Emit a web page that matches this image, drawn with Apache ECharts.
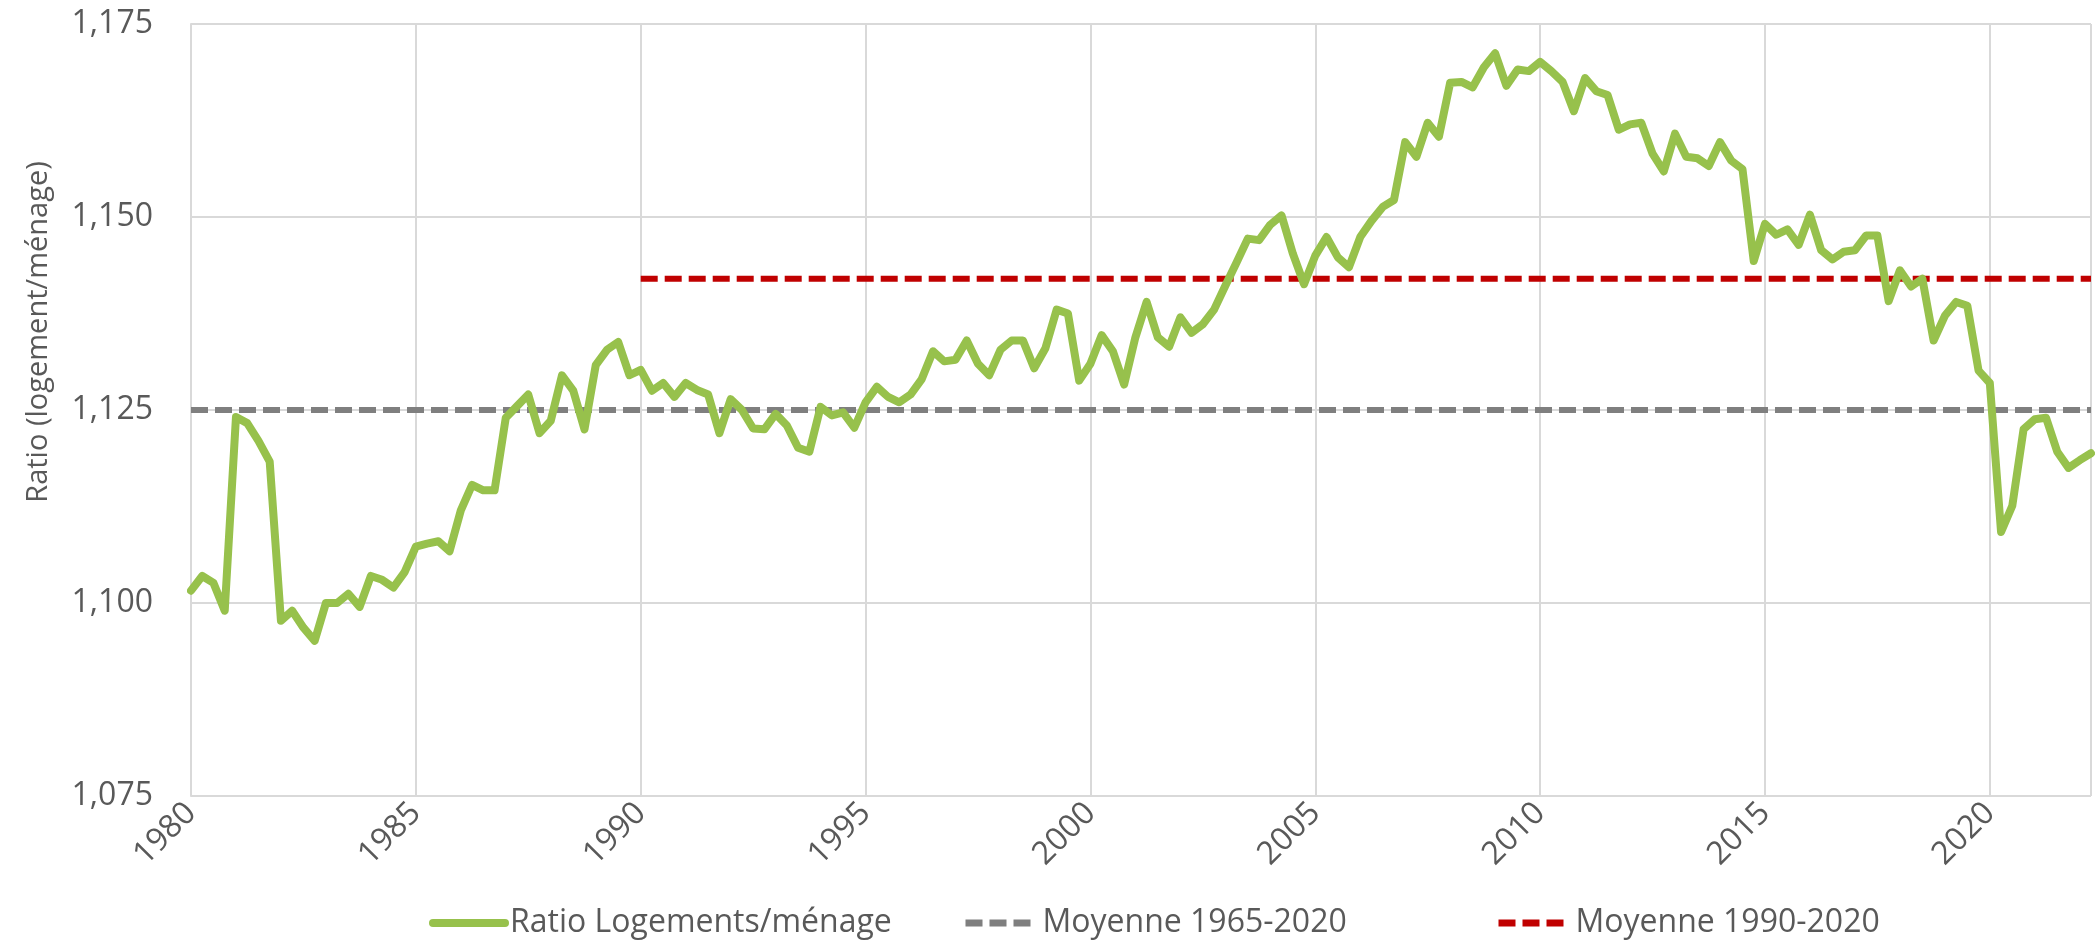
<!DOCTYPE html>
<html>
<head>
<meta charset="utf-8">
<script src="https://cdn.jsdelivr.net/npm/echarts@6/dist/echarts.min.js"></script>
<style>
html,body{margin:0;padding:0;background:#fff;}
#chart{width:2095px;height:946px;}
</style>
</head>
<body>
<div id="chart"></div>
<script>
// Quarterly ratio values, 1980 Q1 .. 2022 Q2
const startYear = 1980;
const ratio = [
  1.1016, 1.1035, 1.1026, 1.0990,
  1.1241, 1.1233, 1.1210, 1.1183,
  1.0977, 1.0990, 1.0968, 1.0951,
  1.1000, 1.1000, 1.1012, 1.0995,
  1.1035, 1.1030, 1.1020, 1.1040,
  1.1073, 1.1077, 1.1080, 1.1067,
  1.1120, 1.1153, 1.1146, 1.1146,
  1.1240, 1.1255, 1.1270, 1.1220,
  1.1236, 1.1295, 1.1275, 1.1225,
  1.1308, 1.1328, 1.1338, 1.1295,
  1.1302, 1.1275, 1.1285, 1.1267,
  1.1285, 1.1276, 1.1270, 1.1220,
  1.1264, 1.1250, 1.1226, 1.1225,
  1.1245, 1.1230, 1.1201, 1.1196,
  1.1254, 1.1243, 1.1247, 1.1227,
  1.1260, 1.1280, 1.1267, 1.1260,
  1.1270, 1.1290, 1.1326, 1.1313,
  1.1315, 1.1340, 1.1310, 1.1295,
  1.1328, 1.1340, 1.1340, 1.1304,
  1.1330, 1.1380, 1.1375, 1.1288,
  1.1310, 1.1347, 1.1326, 1.1283,
  1.1344, 1.1390, 1.1344, 1.1332,
  1.1370, 1.1350, 1.1361, 1.1380,
  1.1411, 1.1441, 1.1472, 1.1470,
  1.1490, 1.1502, 1.1453, 1.1413,
  1.1450, 1.1474, 1.1448, 1.1435,
  1.1474, 1.1495, 1.1513, 1.1522,
  1.1597, 1.1578, 1.1622, 1.1604,
  1.1674, 1.1675, 1.1668, 1.1694,
  1.1712, 1.1670, 1.1691, 1.1689,
  1.1701, 1.1689, 1.1675, 1.1637,
  1.1680, 1.1663, 1.1658, 1.1613,
  1.1620, 1.1622, 1.1582, 1.1559,
  1.1608, 1.1578, 1.1576, 1.1566,
  1.1597, 1.1573, 1.1562, 1.1443,
  1.1491, 1.1477, 1.1484, 1.1464,
  1.1503, 1.1457, 1.1445, 1.1455,
  1.1457, 1.1476, 1.1476, 1.1391,
  1.1431, 1.1410, 1.1420, 1.1340,
  1.1372, 1.1390, 1.1385, 1.1301,
  1.1285, 1.1092, 1.1126, 1.1225,
  1.1238, 1.1240, 1.1196, 1.1175,
  1.1185, 1.1194
];
const avg1965 = 1.125;        // Moyenne 1965-2020
const avg1965Span = [1980, 2022.25];
const avg1990 = 1.142;        // Moyenne 1990-2020
const avg1990Span = [1990, 2022.25];
const yTicks = [1.075, 1.100, 1.125, 1.150, 1.175];
const xTicks = [1980, 1985, 1990, 1995, 2000, 2005, 2010, 2015, 2020];
const seriesNames = ['Ratio Logements/ménage', 'Moyenne 1965-2020', 'Moyenne 1990-2020'];

const ratioData = ratio.map((v, i) => [startYear + i / 4, v]);
const xMax = startYear + (ratio.length - 1) / 4;

const FONT = '"Open Sans", "Noto Sans", sans-serif';
const TXT = '#595959';
const FS = 32;
const GREEN = '#97c14c', GREY = '#7f7f7f', RED = '#c00000';
const legendLines = [
  {width: 8, color: GREEN, type: 'solid', cap: 'round'},
  {width: 7, color: GREY, type: [17, 7]},
  {width: 7, color: RED, type: [17, 7]}
];
const legendLeft = [424, 957, 1490];

const legends = seriesNames.map((n, i) => ({
  bottom: 2,
  left: legendLeft[i],
  itemWidth: 72,
  itemHeight: 20,
  textStyle: {fontSize: 32, color: TXT, fontFamily: FONT},
  itemStyle: {color: 'transparent', borderColor: 'transparent', borderWidth: 0},
  data: [{name: n, lineStyle: legendLines[i]}]
}));

const chart = echarts.init(document.getElementById('chart'), null, {renderer: 'canvas'});
chart.setOption({
  animation: false,
  backgroundColor: '#ffffff',
  textStyle: {fontFamily: FONT},
  grid: {left: 191, right: 4, top: 24, bottom: 150, containLabel: false},
  legend: legends,
  xAxis: {
    type: 'value',
    min: startYear,
    max: xMax,
    interval: 5,
    axisLine: {show: false},
    axisTick: {show: false},
    splitLine: {show: true, lineStyle: {color: '#d9d9d9', width: 2}},
    axisLabel: {
      rotate: 45,
      fontSize: FS,
      color: TXT,
      margin: 12,
      showMaxLabel: false,
      formatter: v => xTicks.includes(v) ? String(v) : ''
    }
  },
  yAxis: {
    type: 'value',
    min: yTicks[0],
    max: yTicks[yTicks.length - 1],
    interval: 0.025,
    name: 'Ratio (logement/ménage)',
    nameLocation: 'middle',
    nameGap: 138,
    nameRotate: 90,
    nameTextStyle: {fontSize: 29, color: TXT, fontFamily: FONT, padding: [0, 0, 0, 156]},
    axisLine: {show: true, lineStyle: {color: '#d9d9d9', width: 2}},
    axisTick: {show: false},
    splitLine: {show: true, lineStyle: {color: '#d9d9d9', width: 2}},
    axisLabel: {
      fontSize: FS,
      color: TXT,
      margin: 38,
      formatter: v => v.toFixed(3).replace('.', ',')
    }
  },
  series: [
    {
      name: seriesNames[0],
      type: 'line',
      data: ratioData,
      showSymbol: false,
      symbol: 'none',
      lineStyle: {color: GREEN, width: 8, cap: 'round', join: 'round'},
      itemStyle: {color: GREEN},
      z: 3
    },
    {
      name: seriesNames[1],
      type: 'line',
      data: avg1965Span.map(x => [x, avg1965]),
      symbol: 'none',
      lineStyle: {color: GREY, width: 6, type: [17, 7], cap: 'butt'},
      itemStyle: {color: GREY},
      z: 2
    },
    {
      name: seriesNames[2],
      type: 'line',
      data: avg1990Span.map(x => [x, avg1990]),
      symbol: 'none',
      lineStyle: {color: RED, width: 6, type: [17, 7], cap: 'butt'},
      itemStyle: {color: RED},
      z: 2
    }
  ]
});
</script>
</body>
</html>
